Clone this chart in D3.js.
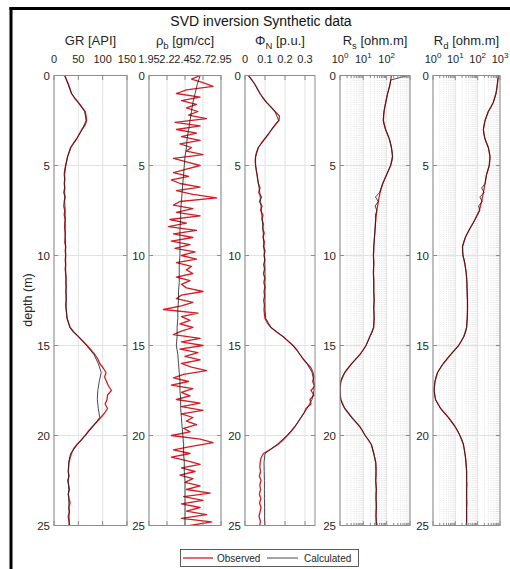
<!DOCTYPE html>
<html>
<head>
<meta charset="utf-8">
<script src="https://cdn.jsdelivr.net/npm/d3@7"></script>
<style>
  body { margin: 0; background: #fff; }
  svg { display: block; font-family: "Liberation Sans", Arial, Helvetica, sans-serif; }
</style>
</head>
<body>
<svg id="chart" width="510" height="569"></svg>
<script>
// ---------- sample depths (m) ----------
const depthQuarter = d3.range(0, 25.001, 0.25);   // 101 samples
const depthHalf    = d3.range(0, 25.001, 0.5);    // 51 samples
const depthFifth   = d3.range(0, 25.001, 0.2);    // 126 samples

// ---------- GR [API] ----------
const grObserved = [
  22,26,30,33,36,42,50,57,64,66,67,64,57,52,47,40,34,31,28,26,
  24,22,21,22,21,22,20,23,21,20,22,21,23,22,22,23,23,22,24,23,
  24,23,24,23,24,25,24,25,24,25,25,24,25,26,27,30,33,40,50,59,
  68,76,84,90,94,101,107,104,108,112,118,110,109,105,110,104,96,88,79,71,
  64,56,47,40,36,33,31,30,29,31,28,30,32,29,31,33,30,32,29,31,
  32];
const grCalculated = [
  22,29,36,50,63,66,58,47,35,28,
  24,22,22,22,22,23,23,23,23,24,
  24,24,24,25,25,25,25,27,33,50,
  67,82,91,97,93,90,89,91,94,80,
  64,48,34,30,30,30,30,30,31,31,
  31];

// ---------- bulk density [gm/cc] ----------
const rhoObserved = [
  2.66,2.54,2.70,2.84,2.47,2.33,2.66,2.40,2.61,2.47,
  2.63,2.50,2.75,2.31,2.66,2.33,2.61,2.40,2.66,2.38,
  2.54,2.47,2.70,2.29,2.47,2.66,2.47,2.29,2.50,2.26,
  2.38,2.66,2.33,2.56,2.89,2.38,2.29,2.56,2.33,2.66,
  2.24,2.47,2.22,2.61,2.29,2.56,2.26,2.52,2.31,2.59,
  2.40,2.61,2.33,2.54,2.47,2.56,2.33,2.52,2.40,2.47,
  2.70,2.40,2.33,2.56,2.40,2.15,2.63,2.40,2.52,2.38,
  2.56,2.40,2.29,2.66,2.40,2.70,2.38,2.63,2.45,2.66,
  2.40,2.54,2.75,2.43,2.29,2.50,2.26,2.56,2.40,2.52,
  2.33,2.66,2.40,2.70,2.40,2.56,2.47,2.61,2.43,2.52,
  2.26,2.66,2.84,2.54,2.29,2.52,2.26,2.47,2.66,2.40,
  2.59,2.38,2.56,2.45,2.66,2.47,2.80,2.43,2.70,2.40,
  2.66,2.47,2.75,2.40,2.82,2.52];
const rhoCalculated = [
  2.66,2.62,2.59,2.56,2.54,2.52,2.50,2.48,2.47,2.45,
  2.44,2.43,2.42,2.41,2.40,2.39,2.39,2.38,2.38,2.38,
  2.38,2.37,2.37,2.37,2.36,2.36,2.35,2.35,2.34,2.34,
  2.33,2.35,2.36,2.37,2.38,2.38,2.39,2.39,2.40,2.41,
  2.42,2.43,2.43,2.44,2.44,2.45,2.45,2.45,2.45,2.45,
  2.45];

// ---------- neutron porosity [p.u.] ----------
const phiObserved = [
  0.017,0.035,0.05,0.062,0.075,0.09,0.108,0.13,0.15,0.172,0.17,0.15,0.133,0.118,0.10,0.082,0.067,0.058,0.053,0.051,
  0.053,0.056,0.06,0.063,0.067,0.075,0.068,0.083,0.072,0.085,0.078,0.09,0.085,0.092,0.088,0.096,0.09,0.097,0.092,0.10,
  0.095,0.10,0.093,0.098,0.092,0.099,0.094,0.10,0.095,0.098,0.093,0.097,0.095,0.097,0.10,0.112,0.13,0.158,0.19,0.215,
  0.24,0.26,0.275,0.29,0.31,0.33,0.34,0.345,0.338,0.35,0.33,0.345,0.325,0.33,0.305,0.295,0.28,0.265,0.25,0.232,
  0.212,0.19,0.165,0.13,0.092,0.08,0.076,0.074,0.078,0.072,0.08,0.074,0.078,0.072,0.079,0.073,0.08,0.075,0.07,0.077,
  0.074];
const phiCalculated = [
  0.017,0.05,0.075,0.108,0.15,0.168,0.133,0.10,0.067,0.053,
  0.053,0.06,0.067,0.074,0.078,0.082,0.086,0.09,0.092,0.095,
  0.097,0.099,0.10,0.10,0.10,0.10,0.10,0.104,0.13,0.19,
  0.24,0.275,0.31,0.335,0.345,0.345,0.335,0.31,0.28,0.25,
  0.21,0.16,0.10,0.095,0.096,0.097,0.097,0.097,0.098,0.098,
  0.098];

// ---------- shallow resistivity [ohm.m] ----------
const rsObserved = [
  160,139,110,91,77,72,90,128,160,178,
  148,100,68,52,44,38,34,32,30,28,
  27,28,27,28,28,29,28,29,28,19,
  13,7.2,3.2,1.6,1.08,1.0,1.08,1.6,3.2,7.0,
  12,22,28,34,35,34,36,35,36,35,
  36];
const rsCalculated = [
  800,150,138,124,110,100,91,83,77,73,72,78,90,108,128,146,160,172,178,168,
  148,122,100,82,68,58,50,33,44,32,38,33,34,33,32,31,30,29,28,28,
  27,28,28,27,27,28,28,28,28,29,29,28,28,29,29,28,27,24,19,16,
  13,10,7.2,4.8,3.2,2.2,1.6,1.25,1.08,1.02,1.0,1.02,1.08,1.25,1.6,2.3,3.2,4.8,7.0,9.5,
  12,17,22,25,28,31,34,35,35,35,34,35,36,35,35,36,36,35,35,36,
  36];

// ---------- deep resistivity [ohm.m] ----------
const rdObserved = [
  840,760,660,500,300,215,180,210,300,355,
  330,250,215,180,150,118,76,45,28,21,
  22,27,31,33,34,35,35,34,32,24,
  14,6.2,2.9,1.6,1.23,1.12,1.3,2.2,4.9,9.7,
  16,23,27,30,32,32,32,32,32,32,
  32];
const rdCalculated = [
  860,800,760,720,660,580,500,400,300,250,215,192,180,188,210,250,300,335,355,350,
  330,290,250,230,215,150,195,125,160,110,125,98,76,60,45,35,28,24,21,21,
  22,25,27,29,31,32,33,33,34,34,35,35,35,35,34,33,32,29,24,19,
  14,9.5,6.2,4.2,2.9,2.1,1.6,1.35,1.23,1.15,1.12,1.18,1.3,1.65,2.2,3.2,4.9,7.0,9.7,13,
  16,20,23,25,27,29,30,31,32,32,32,33,32,32,32,33,32,32,32,32,
  32];

// ---------- axes text ----------
const chartTitle = "SVD inversion Synthetic data";
const depthTicks = [0, 5, 10, 15, 20, 25];
const grTicks  = [0, 50, 100, 150];
const rhoTicks = [1.95, 2.2, 2.45, 2.7, 2.95];
const phiTicks = [0, 0.1, 0.2, 0.3];
const rsTickExponents = [0, 1, 2];
const rdTickExponents = [0, 1, 2, 3];
const legendLabels = ["Observed", "Calculated"];

// ---------- layout ----------
const svg = d3.select("#chart");
const TOP = 75.5, BOTTOM = 525.5;
const y = d3.scaleLinear().domain([0, 25]).range([TOP, BOTTOM]);
const OBS_COLOR = "#cf1f25", CALC_COLOR = "#1b1b1b";
const AXIS_COLOR = "#8c8c8c", GRID_COLOR = "#e2e2e2", TEXT_COLOR = "#262626";

const panels = [
  { left: 54,  right: 127, log: false, domain: [0, 150],     ticks: grTicks,  fmt: d => String(d),
    title: ["GR [API]", null, null],
    obs: [depthQuarter, grObserved], calc: [depthHalf, grCalculated] },
  { left: 149, right: 221, log: false, domain: [1.95, 2.95], ticks: rhoTicks, fmt: d => String(d),
    title: ["\u03C1", "b", " [gm/cc]"],
    obs: [depthFifth, rhoObserved], calc: [depthHalf, rhoCalculated] },
  { left: 245, right: 315, log: false, domain: [0, 0.35],    ticks: phiTicks, fmt: d => String(d),
    title: ["\u03A6", "N", " [p.u.]"],
    obs: [depthQuarter, phiObserved], calc: [depthHalf, phiCalculated] },
  { left: 340, right: 410, log: true,  domain: [1, 1000],    exps: rsTickExponents,
    title: ["R", "s", " [ohm.m]"],
    obs: [depthHalf, rsObserved], calc: [depthQuarter, rsCalculated] },
  { left: 433, right: 500, log: true,  domain: [1, 1000],    exps: rdTickExponents,
    title: ["R", "d", " [ohm.m]"],
    obs: [depthHalf, rdObserved], calc: [depthQuarter, rdCalculated] }
];

// outer frame (left and top edges)
svg.append("line").attr("x1", 11).attr("x2", 11).attr("y1", 7).attr("y2", 569)
  .attr("stroke", "#000").attr("stroke-width", 3);
svg.append("line").attr("x1", 9.5).attr("x2", 510).attr("y1", 8.5).attr("y2", 8.5)
  .attr("stroke", "#000").attr("stroke-width", 3);

// title
svg.append("text").attr("x", 261).attr("y", 26).attr("text-anchor", "middle")
  .attr("font-size", 14).attr("fill", "#111").text(chartTitle);

// depth label
svg.append("text").attr("transform", "translate(32,300) rotate(-90)")
  .attr("text-anchor", "middle").attr("font-size", 12.5).attr("fill", TEXT_COLOR)
  .text("depth (m)");

panels.forEach((p, i) => {
  const x = p.log
    ? d3.scaleLog().domain(p.domain).range([p.left, p.right])
    : d3.scaleLinear().domain(p.domain).range([p.left, p.right]);
  const g = svg.append("g");
  const w = p.right - p.left;

  // minor grid for log panels
  let minor = [], major = [];
  if (p.log) {
    const lo = Math.log10(p.domain[0]), hi = Math.log10(p.domain[1]);
    for (let e = lo; e < hi; e++) {
      for (let k = 2; k <= 9; k++) minor.push(k * Math.pow(10, e));
    }
    major = d3.range(lo, hi + 1).map(e => Math.pow(10, e));
    g.selectAll(".mg").data(minor).join("line")
      .attr("x1", d => x(d)).attr("x2", d => x(d))
      .attr("y1", TOP).attr("y2", BOTTOM)
      .attr("stroke", "#d0d0d0").attr("stroke-width", 0.6)
      .attr("stroke-dasharray", "1,1.2");
  } else {
    major = p.ticks;
  }

  // major grid
  g.selectAll(".gx").data(major).join("line")
    .attr("x1", d => x(d)).attr("x2", d => x(d))
    .attr("y1", TOP).attr("y2", BOTTOM)
    .attr("stroke", GRID_COLOR).attr("stroke-width", 1);
  g.selectAll(".gy").data(depthTicks.slice(1, -1)).join("line")
    .attr("x1", p.left).attr("x2", p.right)
    .attr("y1", d => y(d)).attr("y2", d => y(d))
    .attr("stroke", GRID_COLOR).attr("stroke-width", 1);

  // curves
  const clipId = "clip" + i;
  svg.append("clipPath").attr("id", clipId).append("rect")
    .attr("x", p.left).attr("y", TOP).attr("width", w).attr("height", BOTTOM - TOP);
  const line = d3.line().x(d => x(d[1])).y(d => y(d[0]));
  const pairs = (dep, val) => val.map((v, k) => [dep[k], v]);
  const curves = g.append("g").attr("clip-path", `url(#${clipId})`);
  curves.append("path").datum(pairs(p.obs[0], p.obs[1]))
    .attr("d", line).attr("fill", "none")
    .attr("stroke", OBS_COLOR).attr("stroke-width", 1.3).attr("stroke-linejoin", "round");
  curves.append("path").datum(pairs(p.calc[0], p.calc[1]))
    .attr("d", line).attr("fill", "none")
    .attr("stroke", CALC_COLOR).attr("stroke-width", 0.8).attr("stroke-linejoin", "round");

  // box
  g.append("rect").attr("x", p.left).attr("y", TOP).attr("width", w).attr("height", BOTTOM - TOP)
    .attr("fill", "none").attr("stroke", AXIS_COLOR).attr("stroke-width", 1);

  // x ticks (inward, top and bottom)
  const tickSet = (vals, len) => {
    g.selectAll(null).data(vals).join("line")
      .attr("x1", d => x(d)).attr("x2", d => x(d))
      .attr("y1", TOP).attr("y2", TOP + len)
      .attr("stroke", AXIS_COLOR).attr("stroke-width", 1);
    g.selectAll(null).data(vals).join("line")
      .attr("x1", d => x(d)).attr("x2", d => x(d))
      .attr("y1", BOTTOM).attr("y2", BOTTOM - len)
      .attr("stroke", AXIS_COLOR).attr("stroke-width", 1);
  };
  tickSet(major, 4.5);
  if (p.log) tickSet(minor, 2.5);

  // y ticks (inward, left and right)
  g.selectAll(null).data(depthTicks).join("line")
    .attr("x1", p.left).attr("x2", p.left + 4)
    .attr("y1", d => y(d)).attr("y2", d => y(d))
    .attr("stroke", AXIS_COLOR);
  g.selectAll(null).data(depthTicks).join("line")
    .attr("x1", p.right).attr("x2", p.right - 4)
    .attr("y1", d => y(d)).attr("y2", d => y(d))
    .attr("stroke", AXIS_COLOR);

  // y tick labels
  g.selectAll(null).data(depthTicks).join("text")
    .attr("x", p.left - 4).attr("y", d => y(d) + 4)
    .attr("text-anchor", "end").attr("font-size", 11.5).attr("fill", TEXT_COLOR)
    .text(d => d);

  // x tick labels along the top
  if (p.log) {
    const lab = g.selectAll(null).data(p.exps).join("text")
      .attr("x", d => x(Math.pow(10, d))).attr("y", 63)
      .attr("text-anchor", "middle").attr("font-size", 11).attr("fill", TEXT_COLOR);
    lab.append("tspan").text("10");
    lab.append("tspan").attr("dy", -5).attr("font-size", 8).text(d => d);
  } else {
    g.selectAll(null).data(p.ticks).join("text")
      .attr("x", d => x(d)).attr("y", 63)
      .attr("text-anchor", "middle").attr("font-size", 11).attr("fill", TEXT_COLOR)
      .text(p.fmt);
  }

  // panel header
  const t = g.append("text").attr("x", (p.left + p.right) / 2).attr("y", 45)
    .attr("text-anchor", "middle").attr("font-size", 13).attr("fill", TEXT_COLOR);
  t.append("tspan").text(p.title[0]);
  if (p.title[1]) {
    t.append("tspan").attr("dy", 3.5).attr("font-size", 9.5).text(p.title[1]);
    t.append("tspan").attr("dy", -3.5).text(p.title[2]);
  }
});

// legend
const lg = svg.append("g");
lg.append("rect").attr("x", 180.5).attr("y", 549.5).attr("width", 178).attr("height", 17)
  .attr("fill", "#fff").attr("stroke", "#333").attr("stroke-width", 0.8);
const legendItems = [
  { label: legendLabels[0], color: OBS_COLOR, width: 1.3, x1: 183, x2: 213, tx: 217 },
  { label: legendLabels[1], color: CALC_COLOR, width: 0.8, x1: 267, x2: 298, tx: 304 }
];
legendItems.forEach(it => {
  lg.append("line").attr("x1", it.x1).attr("x2", it.x2).attr("y1", 558).attr("y2", 558)
    .attr("stroke", it.color).attr("stroke-width", it.width);
  lg.append("text").attr("x", it.tx).attr("y", 561.5).attr("font-size", 10)
    .attr("fill", TEXT_COLOR).text(it.label);
});
</script>
</body>
</html>
